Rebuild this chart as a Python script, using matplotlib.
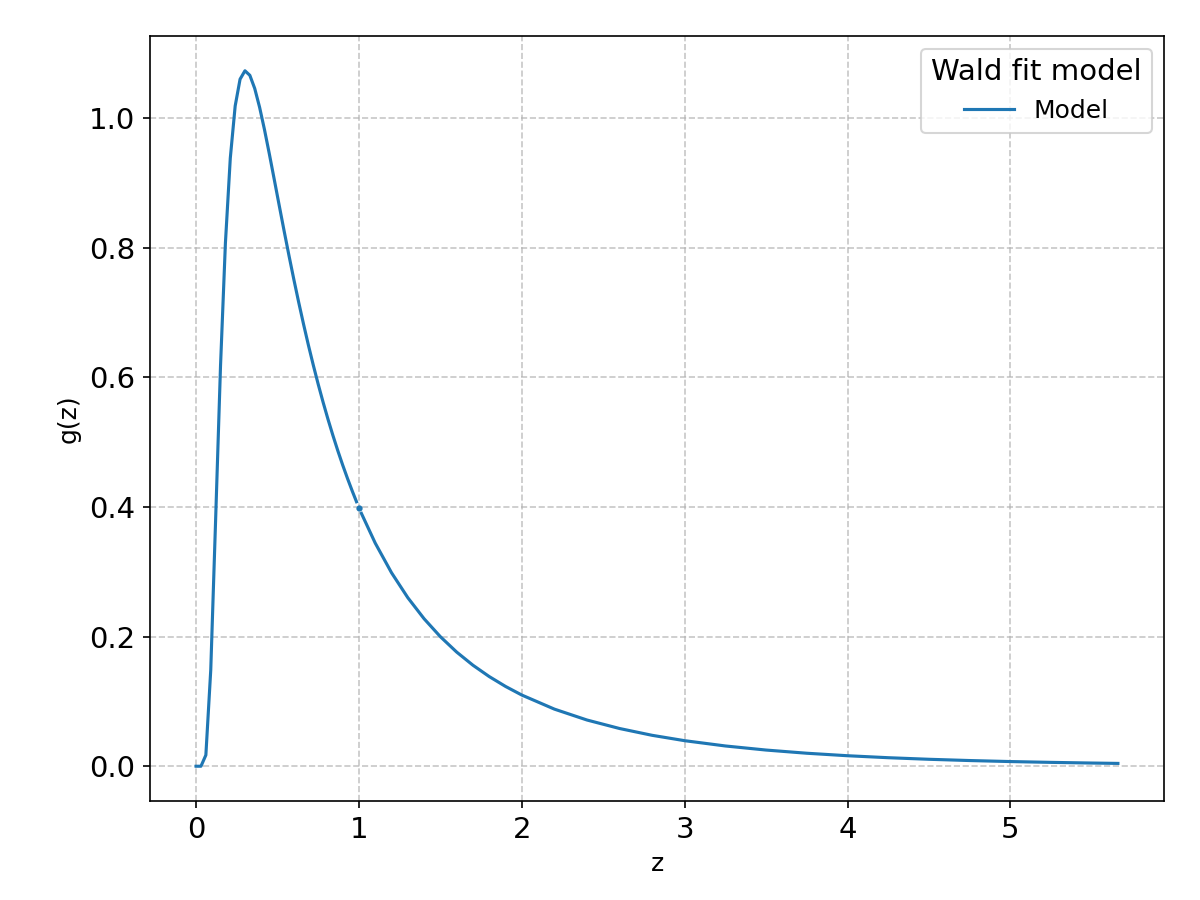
import matplotlib
matplotlib.use("Agg")
import matplotlib.pyplot as plt

# Wald fit model
z_left = [0.0, 0.03, 0.06, 0.09, 0.12, 0.15, 0.18, 0.21, 0.24, 0.27, 0.30, 0.33,
          0.36, 0.39, 0.42, 0.45, 0.48, 0.51, 0.54, 0.57, 0.60, 0.63, 0.66, 0.69,
          0.72, 0.75, 0.78, 0.81, 0.84, 0.87, 0.90, 0.93, 0.96, 0.985]
g_left = [0.0, 0.0, 0.0172, 0.1484, 0.381, 0.6177, 0.807, 0.9381, 1.0186, 1.0599,
          1.0729, 1.0659, 1.0456, 1.0165, 0.982, 0.9443, 0.9051, 0.8656, 0.8264,
          0.7882, 0.7512, 0.7157, 0.6817, 0.6492, 0.6184, 0.5891, 0.5614, 0.5352,
          0.5104, 0.4869, 0.4647, 0.4437, 0.4238, 0.408]

z_mid = [1.0]
g_mid = [0.3989]

z_right = [1.015, 1.1, 1.2, 1.3, 1.4, 1.5, 1.6, 1.7, 1.8, 1.9, 2.0, 2.2, 2.4, 2.6,
           2.8, 3.0, 3.25, 3.5, 3.75, 4.0, 4.25, 4.5, 4.75, 5.0, 5.25, 5.5, 5.66]
g_right = [0.3901, 0.3442, 0.2985, 0.26, 0.2275, 0.1998, 0.1761, 0.1558, 0.1383,
           0.1231, 0.1098, 0.0881, 0.0713, 0.0582, 0.0477, 0.0394, 0.03125, 0.02495,
           0.02004, 0.01619, 0.01314, 0.01071, 0.00877, 0.0072, 0.00594, 0.00491,
           0.00435]

fig, ax = plt.subplots(figsize=(8, 6), dpi=150)
color = "#1f77b4"
ax.plot(z_left, g_left, color=color, linewidth=1.5, label="Model")
ax.plot(z_mid, g_mid, color=color, marker="o", markersize=2, linestyle="none")
ax.plot(z_right, g_right, color=color, linewidth=1.5)

ax.set_xlabel("z", fontsize=12)
ax.set_ylabel("g(z)", fontsize=12)
ax.tick_params(axis="both", labelsize=14)
ax.grid(True, linestyle="--", alpha=0.7)
ax.legend(title="Wald fit model", fontsize=12, title_fontsize=14, loc="upper right")

plt.subplots_adjust(left=0.125, right=0.97, top=0.96, bottom=0.11)
plt.savefig("out.png", dpi=150)
